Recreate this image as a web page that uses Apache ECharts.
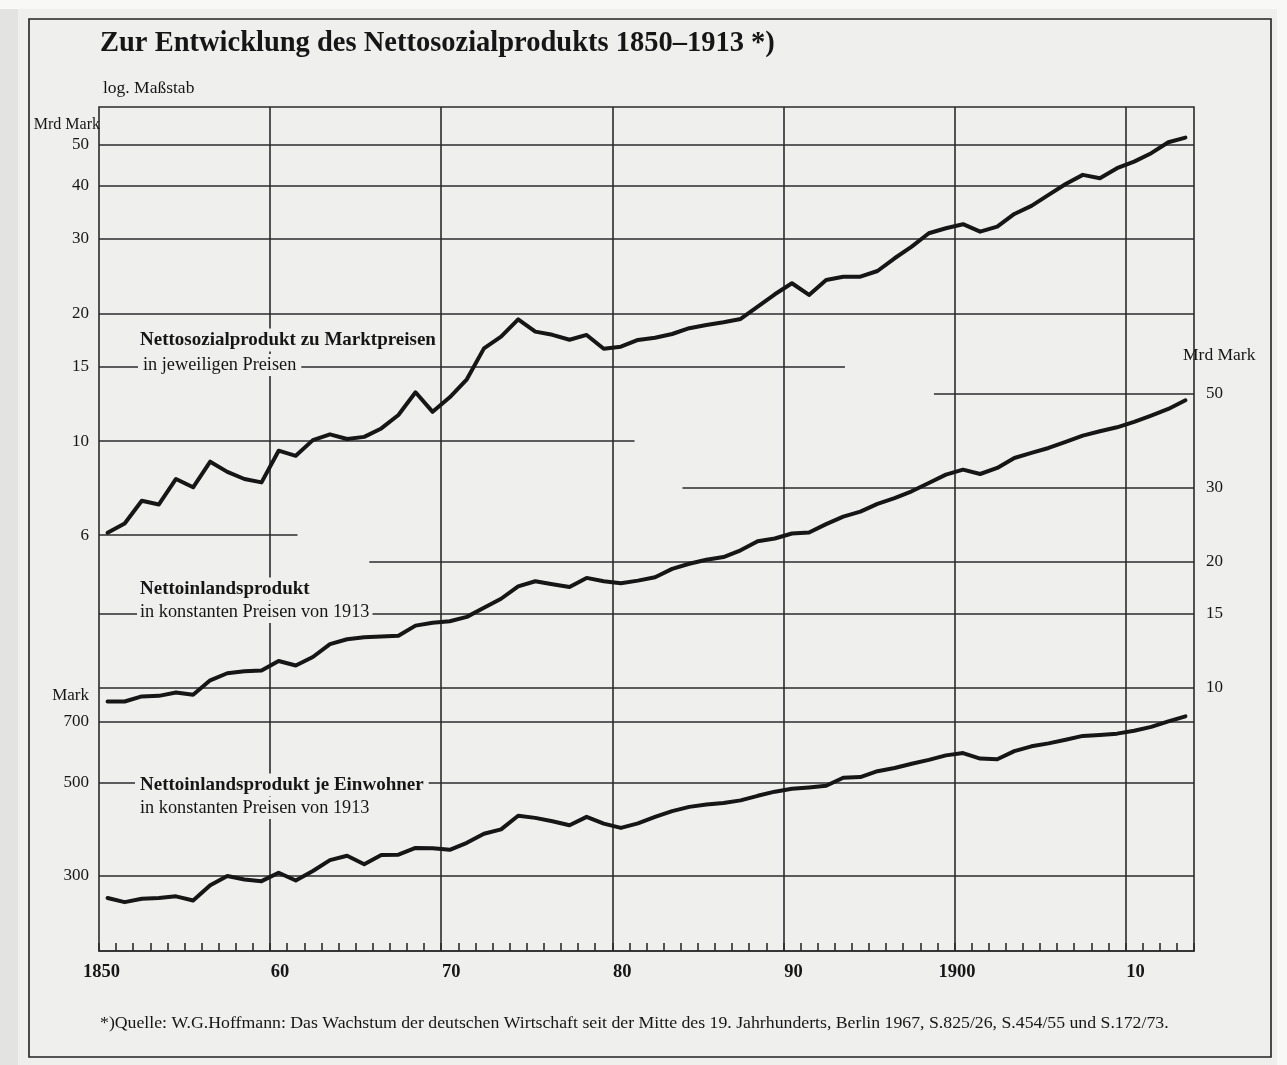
<!DOCTYPE html>
<html>
<head>
<meta charset="utf-8">
<script src="https://cdn.jsdelivr.net/npm/echarts@6/dist/echarts.min.js"></script>
<style>
  html, body { margin: 0; padding: 0; background: #efefed; }
  #chart { width: 1287px; height: 1065px; }
</style>
</head>
<body>
<div id="chart"></div>
<script>
// ---------------- DATA ----------------
const firstYear = 1850;
const lastYear = 1913;

// Nettosozialprodukt zu Marktpreisen, in jeweiligen Preisen (Mrd Mark)
const nspMarket = [
  6.08, 6.39, 7.23, 7.09, 8.14, 7.78, 8.94, 8.46, 8.14, 7.99,
  9.49, 9.23, 10.05, 10.37, 10.11, 10.23, 10.71, 11.52, 13.03, 11.72,
  12.68, 13.98, 16.54, 17.62, 19.36, 18.11, 17.80, 17.33, 17.79, 16.50,
  16.69, 17.31, 17.52, 17.88, 18.45, 18.78, 19.05, 19.40, 20.74, 22.18,
  23.55, 22.10, 23.97, 24.40, 24.40, 25.17, 26.97, 28.72, 30.90, 31.75,
  32.45, 31.16, 32.02, 34.30, 35.84, 38.04, 40.37, 42.41, 41.65, 43.98,
  45.58, 47.71, 50.64, 51.92
];

// Nettoinlandsprodukt in konstanten Preisen von 1913 (Mrd Mark)
const nipConst = [
  9.29, 9.29, 9.55, 9.58, 9.76, 9.64, 10.43, 10.84, 10.96, 11.00,
  11.59, 11.31, 11.85, 12.71, 13.06, 13.21, 13.26, 13.31, 14.07, 14.30,
  14.41, 14.76, 15.51, 16.30, 17.45, 17.94, 17.64, 17.38, 18.27, 17.94,
  17.75, 18.00, 18.34, 19.20, 19.74, 20.18, 20.48, 21.25, 22.34, 22.67,
  23.30, 23.43, 24.53, 25.55, 26.27, 27.41, 28.28, 29.35, 30.72, 32.16,
  33.05, 32.27, 33.36, 35.23, 36.21, 37.21, 38.46, 39.81, 40.77, 41.67,
  42.91, 44.42, 46.07, 48.30
];

// Nettoinlandsprodukt je Einwohner in konstanten Preisen von 1913 (Mark)
const nipPerCapita = [
  264.8, 258.8, 263.7, 264.8, 267.2, 261.2, 284.1, 298.9, 293.4, 290.6,
  304.5, 291.7, 307.4, 326.4, 334.4, 319.1, 335.6, 336.3, 349.1, 348.4,
  345.5, 359.1, 377.6, 386.9, 417.0, 412.2, 404.6, 395.6, 414.5, 399.4,
  390.0, 399.9, 414.3, 427.9, 438.0, 443.6, 447.6, 454.0, 465.6, 476.4,
  484.2, 487.7, 492.1, 514.6, 516.4, 533.3, 542.9, 555.6, 567.7, 582.1,
  589.5, 571.9, 569.8, 595.8, 612.0, 622.0, 634.3, 648.2, 651.6, 656.3,
  667.0, 681.5, 702.5, 721.9
];

// tick labels
const decadeTicks = [1850, 1860, 1870, 1880, 1890, 1900, 1910];
const leftTicksMrd = [50, 40, 30, 20, 15, 10, 6];
const rightTicksMrd = [50, 30, 20, 15, 10];
const leftTicksMark = [700, 500, 300];

// ---------------- LAYOUT (not data) ----------------
const X_MIN = 1850, X_MAX = 1914;
// horizontal extent (in years) of each gridline
const spanLeftMrd = {50:[1850,1914], 40:[1850,1914], 30:[1850,1914], 20:[1850,1914], 15:[1850,1893.6], 10:[1850,1881.3], 6:[1850,1861.6]};
const spanRightMrd = {50:[1898.8,1914], 30:[1884.1,1914], 20:[1865.8,1914], 15:[1850,1914], 10:[1850,1914]};
const spanMark = {700:[1850,1914], 500:[1850,1914], 300:[1850,1914]};

const FONT = '"Liberation Serif", "DejaVu Serif", serif';
const INK = '#161616';
const PAPER = '#efefed';
const GRID = '#2b2b2b';

const years = [];
for (let y = firstYear; y <= lastYear; y++) years.push(y);
const toPoints = vals => vals.map((v, i) => [years[i] + 0.5, v]);

function hLines(ticks, span, side) {
  return ticks.map(v => [
    { coord: [span[v][0], v],
      label: { show: true, position: side === 'left' ? 'start' : 'end', formatter: String(v),
               distance: side === 'left' ? 10 : 12, color: INK, fontFamily: FONT, fontSize: 17 } },
    { coord: [span[v][1], v] }
  ]);
}

const lineStyleGrid = { color: GRID, width: 1.6, type: 'solid' };

function seriesOf(name, vals, yIdx, markData) {
  return {
    name, type: 'line', xAxisIndex: 0, yAxisIndex: yIdx,
    data: toPoints(vals), showSymbol: false, symbol: 'none',
    lineStyle: { color: INK, width: 4, join: 'round', cap: 'round' },
    z: 5, silent: true, animation: false,
    markLine: {
      silent: true, symbol: ['none', 'none'], animation: false,
      lineStyle: lineStyleGrid,
      label: { show: false },
      emphasis: { disabled: true },
      data: markData
    }
  };
}

const chart = echarts.init(document.getElementById('chart'), null, { renderer: 'canvas' });

const option = {
  backgroundColor: PAPER,
  animation: false,
  grid: { left: 99, top: 107, width: 1095, height: 844, show: true, borderColor: GRID, borderWidth: 1.6, backgroundColor: 'transparent' },
  xAxis: {
    type: 'value', min: X_MIN, max: X_MAX, interval: 1,
    axisLine: { show: true, lineStyle: { color: GRID, width: 1.6 } },
    axisTick: { show: true, inside: true, length: 8, lineStyle: { color: GRID, width: 1.6 } },
    splitLine: { show: false },
    axisLabel: {
      margin: 12,
      formatter: v => {
        const y = Math.round(v);
        if (decadeTicks.indexOf(y) < 0) return '';
        if (y % 100 === 0 || y === firstYear) return '{f|' + y + '}';
        return '{s|' + String(y).slice(2) + '}';
      },
      rich: {
        f: { fontFamily: FONT, fontWeight: 'bold', fontSize: 18.5, color: INK, padding: [0, 0, 0, 5] },
        s: { fontFamily: FONT, fontWeight: 'bold', fontSize: 18.5, color: INK, padding: [0, 0, 0, 20] }
      }
    }
  },
  yAxis: [
    { type: 'log', min: 0.628, max: 61.3, position: 'left', show: true,
      axisLine: { show: false }, axisTick: { show: false }, axisLabel: { show: false }, splitLine: { show: false } },
    { type: 'log', min: 2.37, max: 240.6, position: 'right', show: true,
      axisLine: { show: false }, axisTick: { show: false }, axisLabel: { show: false }, splitLine: { show: false } },
    { type: 'log', min: 197.6, max: 20900, position: 'left', show: true,
      axisLine: { show: false }, axisTick: { show: false }, axisLabel: { show: false }, splitLine: { show: false } }
  ],
  series: [
    seriesOf('Nettosozialprodukt zu Marktpreisen', nspMarket, 0,
      hLines(leftTicksMrd, spanLeftMrd, 'left').concat(
        decadeTicks.filter(y => y > X_MIN).map(y => ({ xAxis: y, label: { show: false } })))),
    seriesOf('Nettoinlandsprodukt', nipConst, 1, hLines(rightTicksMrd, spanRightMrd, 'right')),
    seriesOf('Nettoinlandsprodukt je Einwohner', nipPerCapita, 2, hLines(leftTicksMark, spanMark, 'left'))
  ],
  graphic: [
    // page edges
    { type: 'rect', z: -5, shape: { x: 0, y: 0, width: 18, height: 1065 }, style: { fill: '#e3e3e1' } },
    { type: 'rect', z: -5, shape: { x: 0, y: 0, width: 1287, height: 9 }, style: { fill: '#f8f8f7' } },
    { type: 'rect', z: -5, shape: { x: 1277, y: 0, width: 10, height: 1065 }, style: { fill: '#f8f8f7' } },
    // frame
    { type: 'rect', z: 1, shape: { x: 29, y: 19, width: 1242, height: 1038 }, style: { fill: 'none', stroke: '#222', lineWidth: 1.6 } },
    // title
    { type: 'text', z: 100, x: 100, y: 44, style: { text: 'Zur Entwicklung des Nettosozialprodukts 1850–1913 *)', font: 'bold 28.5px ' + FONT, fill: INK, verticalAlign: 'middle' } },
    { type: 'text', z: 100, x: 103, y: 88, style: { text: 'log. Maßstab', font: '17.5px ' + FONT, fill: INK, verticalAlign: 'middle' } },
    { type: 'text', z: 100, x: 100, y: 125, style: { text: 'Mrd Mark', font: '16px ' + FONT, fill: INK, align: 'right', verticalAlign: 'middle' } },
    { type: 'text', z: 100, x: 89, y: 696, style: { text: 'Mark', font: '17px ' + FONT, fill: INK, align: 'right', verticalAlign: 'middle' } },
    { type: 'text', z: 100, x: 1183, y: 355, style: { text: 'Mrd Mark', font: '17.5px ' + FONT, fill: INK, verticalAlign: 'middle' } },
    // annotations
    { type: 'text', z: 100, x: 137, y: 340, style: { text: 'Nettosozialprodukt zu Marktpreisen', font: 'bold 19px ' + FONT, fill: INK, verticalAlign: 'middle', backgroundColor: PAPER, padding: [2, 3] } },
    { type: 'text', z: 100, x: 138, y: 365, style: { text: 'in jeweiligen Preisen', font: '18.3px ' + FONT, fill: INK, verticalAlign: 'middle', backgroundColor: PAPER, padding: [2, 5] } },
    { type: 'text', z: 100, x: 137, y: 589, style: { text: 'Nettoinlandsprodukt', font: 'bold 19px ' + FONT, fill: INK, verticalAlign: 'middle', backgroundColor: PAPER, padding: [2, 3] } },
    { type: 'text', z: 100, x: 137, y: 612, style: { text: 'in konstanten Preisen von 1913', font: '18.3px ' + FONT, fill: INK, verticalAlign: 'middle', backgroundColor: PAPER, padding: [2, 3] } },
    { type: 'text', z: 100, x: 135, y: 785, style: { text: 'Nettoinlandsprodukt je Einwohner', font: 'bold 19px ' + FONT, fill: INK, verticalAlign: 'middle', backgroundColor: PAPER, padding: [2, 5] } },
    { type: 'text', z: 100, x: 137, y: 808, style: { text: 'in konstanten Preisen von 1913', font: '18.3px ' + FONT, fill: INK, verticalAlign: 'middle', backgroundColor: PAPER, padding: [2, 3] } },
    // footnote
    { type: 'text', z: 100, x: 100, y: 1023, style: { text: '*)Quelle: W.G.Hoffmann: Das Wachstum der deutschen Wirtschaft seit der Mitte des 19. Jahrhunderts, Berlin 1967, S.825/26, S.454/55 und S.172/73.', font: '17.75px ' + FONT, fill: INK, verticalAlign: 'middle' } }
  ]
};

chart.setOption(option);
</script>
</body>
</html>
